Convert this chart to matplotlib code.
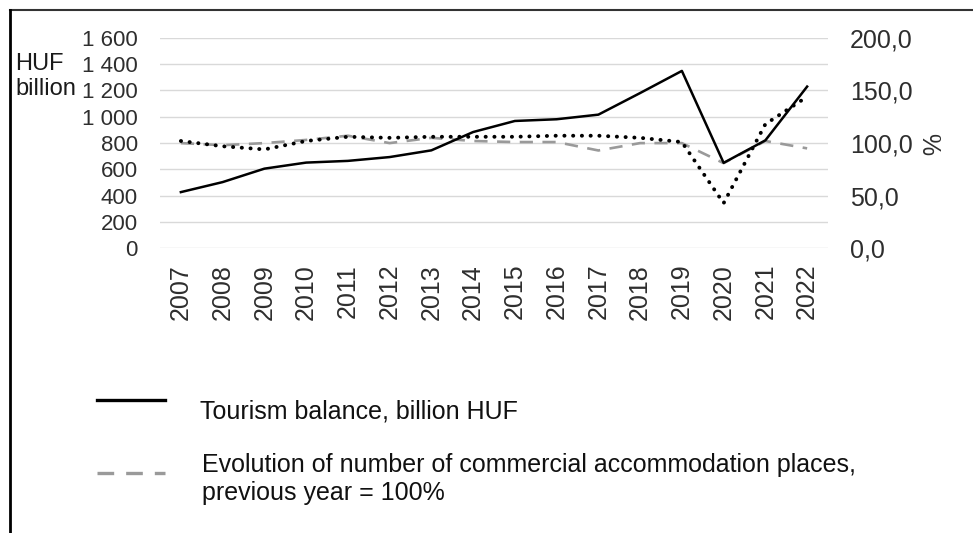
import matplotlib
matplotlib.use("Agg")
import matplotlib.pyplot as plt
from matplotlib.lines import Line2D
from matplotlib.ticker import MultipleLocator, FixedLocator

plt.rcParams["font.family"] = ["Liberation Sans", "DejaVu Sans"]

# --- data -------------------------------------------------------------
years = [str(y) for y in range(2007, 2023)]

# tourism balance, billion HUF (left axis)
balance_huf = [428, 504, 606, 652, 665, 694, 745, 884, 968, 981, 1016, 1180, 1348, 650, 821, 1229]

# commercial accommodation places, previous year = 100% (right axis)
accom_places_pct = [100, 98, 100, 103, 107, 100, 105, 102, 101, 101, 93, 100, 100, 81, 102, 95]

# second index series, previous year = 100% (right axis)
other_index_pct = [102, 97, 94, 102, 106, 105, 106, 106, 106, 107, 107, 105, 101, 43, 118, 144]

left_ticks = [0, 200, 400, 600, 800, 1000, 1200, 1400, 1600]
right_ticks = [0, 50, 100, 150, 200]

legend_labels = [
    "Tourism balance, billion HUF",
    "Evolution of number of commercial accommodation places,\nprevious year = 100%",
]

W, H = 973, 533
TICK_COLOR = "#2e2e2e"


def fx(px):
    return px / W


def fy(py):
    return 1 - py / H


fig = plt.figure(figsize=(W / 100, H / 100), dpi=100)
ax = fig.add_axes([fx(160), fy(248.5), fx(668), (248.5 - 37.7) / H])
ax2 = ax.twinx()

x = list(range(len(years)))

# percentage series sit on the twin axis, drawn underneath the balance line
ax2.plot(x, accom_places_pct, color="#9a9a9a", linewidth=1.9,
         linestyle=(0, (5, 3.6)), label=legend_labels[1])
ax2.plot(x, other_index_pct, color="black", linewidth=2.8,
         linestyle=(0, (0.05, 2.2)), dash_capstyle="round")
bal_line, = ax.plot(x, balance_huf, color="black", linewidth=1.8,
                    label=legend_labels[0])

ax.set_zorder(ax2.get_zorder() + 1)
ax.patch.set_visible(False)

ax.set_xlim(-0.5, len(years) - 0.5)
ax.set_ylim(0, 1600)
ax2.set_ylim(0, 200)

ax.set_xticks(x)
ax.set_xticklabels(years, rotation=90, fontsize=18, color=TICK_COLOR)
ax.tick_params(axis="x", length=0, pad=11)

ax.yaxis.set_major_locator(FixedLocator(left_ticks))
ax.set_yticklabels([f"{v:,}".replace(",", " ") for v in left_ticks],
                   fontsize=16, color=TICK_COLOR)
ax.tick_params(axis="y", length=0, pad=16)

ax2.yaxis.set_major_locator(FixedLocator(right_ticks))
ax2.yaxis.set_minor_locator(MultipleLocator(25))
ax2.set_yticklabels([f"{v:.1f}".replace(".", ",") for v in right_ticks],
                    fontsize=18, color=TICK_COLOR)
ax2.tick_params(axis="y", which="both", length=0, pad=16)

# horizontal gridlines every 200 on the left scale (= 25 on the right)
ax2.grid(True, which="both", axis="y", color="#d9d9d9", linewidth=1.0)
ax.grid(False)

for a in (ax, ax2):
    for s in a.spines.values():
        s.set_visible(False)

ax2.set_ylabel("%", rotation=270, fontsize=18, color=TICK_COLOR,
               ha="center", va="center")
ax2.yaxis.set_label_coords((928 - 160) / 668, (248.5 - 144) / (248.5 - 37.7))

fig.text(fx(15), fy(76.5), "HUF\nbillion", fontsize=17, color="#1a1a1a",
         ha="left", va="center", linespacing=1.22)

# legend drawn below the plot
fig.add_artist(Line2D([fx(97), fx(165)], [fy(400), fy(400)],
                      transform=fig.transFigure, color="black", linewidth=2.4))
fig.text(fx(200), fy(419), legend_labels[0], fontsize=18, color="#111111",
         va="baseline")
fig.add_artist(Line2D([fx(97), fx(165)], [fy(473), fy(473)],
                      transform=fig.transFigure, color="#9a9a9a", linewidth=2.4,
                      linestyle=(0, (5, 3.6))))
fig.text(fx(202), fy(453), legend_labels[1], fontsize=18, color="#111111",
         va="top", linespacing=1.22)

# frame around the chart area
fig.add_artist(Line2D([fx(10), 1], [fy(10), fy(10)], transform=fig.transFigure,
                      color="#333333", linewidth=1.5))
fig.add_artist(Line2D([fx(10), fx(10)], [fy(10), 0], transform=fig.transFigure,
                      color="black", linewidth=2.0))

fig.savefig("out.png", dpi=100)
plt.close(fig)
